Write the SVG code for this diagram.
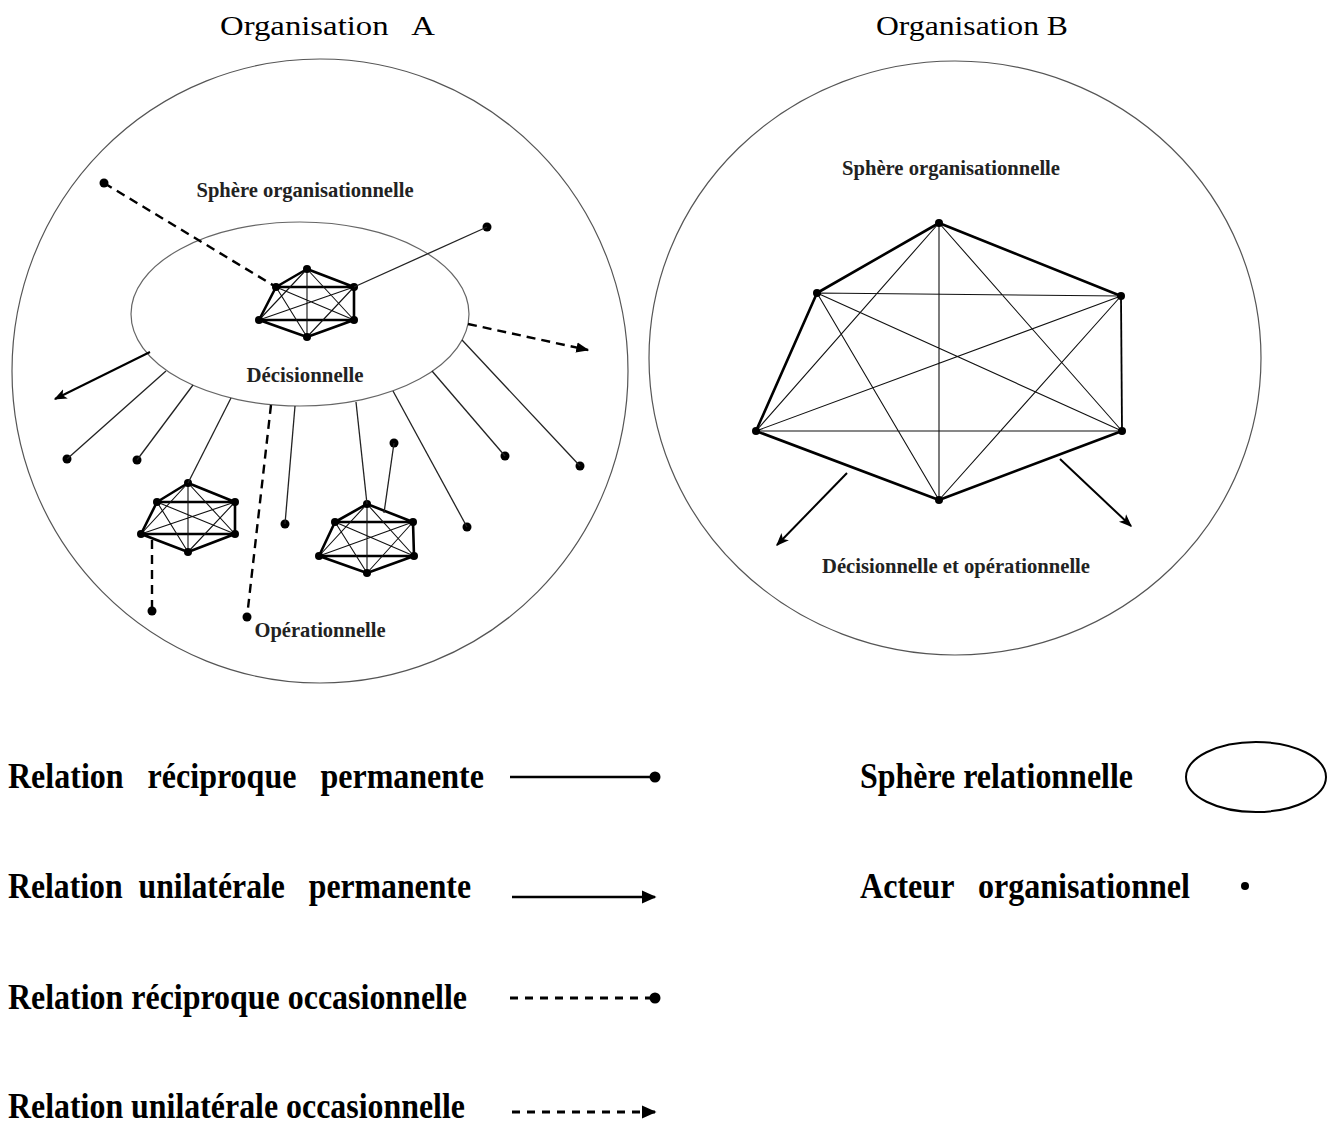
<svg xmlns="http://www.w3.org/2000/svg" width="1339" height="1124" viewBox="0 0 1339 1124">
<style>
.bg{fill:#fff}
.sphere{fill:none;stroke:#555;stroke-width:1.2}
.inner{fill:none;stroke:#666;stroke-width:1.2}
.thick{fill:none;stroke:#000;stroke-width:2.6;stroke-linejoin:round}
.med{fill:none;stroke:#000;stroke-width:1.8}
.thin{fill:none;stroke:#111;stroke-width:1.1}
.link{fill:none;stroke:#222;stroke-width:1.3}
.dash{fill:none;stroke:#000;stroke-width:2.4;stroke-dasharray:9,6}
.arrow{fill:none;stroke:#000;stroke-width:2}
.dot{fill:#000}
text{white-space:pre}
.head{font-family:"Liberation Serif","Times New Roman",serif;font-size:27px;fill:#000}
.lbl{font-family:"Liberation Serif","Times New Roman",serif;font-size:21px;font-weight:bold;fill:#222}
.leg{font-family:"Liberation Serif","Times New Roman",serif;font-size:35px;font-weight:bold;fill:#000}
</style>
<defs>
<marker id="ah" viewBox="0 0 10 10" refX="9" refY="5" markerWidth="13" markerHeight="13" markerUnits="userSpaceOnUse" orient="auto">
<path d="M0,1 L10,5 L0,9 L2.5,5 z" fill="#000"/>
</marker>
<marker id="ahs" viewBox="0 0 10 10" refX="9" refY="5" markerWidth="13" markerHeight="13" markerUnits="userSpaceOnUse" orient="auto">
<path d="M0,1 L10,5 L0,9 z" fill="#000"/>
</marker>
<marker id="ahl" viewBox="0 0 10 10" refX="9" refY="5" markerWidth="15" markerHeight="15" markerUnits="userSpaceOnUse" orient="auto">
<path d="M0,0.5 L10,5 L0,9.5 z" fill="#000"/>
</marker>
</defs>
<rect class="bg" width="1339" height="1124"/>

<g id="titles">
<text class="head" x="220" y="35" xml:space="preserve" textLength="215" lengthAdjust="spacingAndGlyphs">Organisation   A</text>
<text class="head" x="876" y="35" textLength="192" lengthAdjust="spacingAndGlyphs">Organisation B</text>
</g>

<g id="orgA">
<ellipse class="sphere" cx="320" cy="371" rx="308" ry="312"/>
<ellipse class="inner" cx="300" cy="314" rx="169" ry="92"/>
<text class="lbl" x="305" y="197" text-anchor="middle" textLength="217" lengthAdjust="spacingAndGlyphs">Sphère organisationnelle</text>
<text class="lbl" x="305" y="382" text-anchor="middle" textLength="117" lengthAdjust="spacingAndGlyphs">Décisionnelle</text>
<text class="lbl" x="320" y="637" text-anchor="middle" textLength="131" lengthAdjust="spacingAndGlyphs">Opérationnelle</text>
</g>

<g id="orgB">
<ellipse class="sphere" cx="955" cy="358" rx="306" ry="297"/>
<text class="lbl" x="951" y="175" text-anchor="middle" textLength="218" lengthAdjust="spacingAndGlyphs">Sphère organisationnelle</text>
<text class="lbl" x="956" y="573" text-anchor="middle" textLength="268" lengthAdjust="spacingAndGlyphs">Décisionnelle et opérationnelle</text>
</g>

<g id="hexA1">
<path class="thick" d="M307,269 L276,287 L259,320 L307,337 L354,320 L354,287 Z M276,287 L354,287 M259,320 L354,320"/>
<path class="thin" d="M307,269 L307,337 M307,269 L259,320 M307,269 L354,320 M276,287 L354,320 M276,287 L307,337 M354,287 L259,320 M354,287 L307,337"/>
<g class="dot"><circle cx="307" cy="269" r="4"/><circle cx="276" cy="287" r="4"/><circle cx="354" cy="287" r="4"/><circle cx="259" cy="320" r="4"/><circle cx="354" cy="320" r="4"/><circle cx="307" cy="337" r="4"/></g>
</g>

<g id="hexA2">
<path class="thick" d="M188,483 L157,502 L141,534 L188,552 L235,534 L235,502 Z M157,502 L235,502 M141,534 L235,534"/>
<path class="thin" d="M188,483 L188,552 M188,483 L141,534 M188,483 L235,534 M157,502 L235,534 M157,502 L188,552 M235,502 L141,534 M235,502 L188,552"/>
<g class="dot"><circle cx="188" cy="483" r="4"/><circle cx="157" cy="502" r="4"/><circle cx="235" cy="502" r="4"/><circle cx="141" cy="534" r="4"/><circle cx="235" cy="534" r="4"/><circle cx="188" cy="552" r="4"/></g>
</g>

<g id="hexA3">
<path class="thick" d="M367,504 L335,522 L319,556 L367,573 L414,556 L413,522 Z M335,522 L413,522 M319,556 L414,556"/>
<path class="thin" d="M367,504 L367,573 M367,504 L319,556 M367,504 L414,556 M335,522 L414,556 M335,522 L367,573 M413,522 L319,556 M413,522 L367,573"/>
<g class="dot"><circle cx="367" cy="504" r="4"/><circle cx="335" cy="522" r="4"/><circle cx="413" cy="522" r="4"/><circle cx="319" cy="556" r="4"/><circle cx="414" cy="556" r="4"/><circle cx="367" cy="573" r="4"/></g>
</g>

<g id="hexB">
<path class="thick" d="M756,431 L817,293 L939,223 L1121,296 M756,431 L939,500 L1122,431"/>
<path class="med" d="M1121,296 L1122,431"/>
<path class="thin" d="M817,293 L1121,296 M756,431 L1122,431 M939,223 L939,500 M939,223 L756,431 M939,223 L1122,431 M817,293 L1122,431 M817,293 L939,500 M1121,296 L756,431 M1121,296 L939,500"/>
<g class="dot"><circle cx="939" cy="223" r="4"/><circle cx="817" cy="293" r="4"/><circle cx="1121" cy="296" r="4"/><circle cx="756" cy="431" r="4"/><circle cx="1122" cy="431" r="4"/><circle cx="939" cy="500" r="4"/></g>
</g>

<g id="actorsA" class="dot">
<circle cx="104" cy="183" r="4.5"/>
<circle cx="487" cy="227" r="4.5"/>
<circle cx="67" cy="459" r="4.5"/>
<circle cx="137" cy="460" r="4.5"/>
<circle cx="247" cy="617" r="4.5"/>
<circle cx="152" cy="611" r="4.5"/>
<circle cx="285" cy="524" r="4.5"/>
<circle cx="394" cy="443" r="4.5"/>
<circle cx="467" cy="527" r="4.5"/>
<circle cx="505" cy="456" r="4.5"/>
<circle cx="580" cy="466" r="4.5"/>
</g>

<g id="connectors">
<line class="dash" x1="104" y1="183" x2="276" y2="287"/>
<line class="link" x1="354" y1="287" x2="487" y2="227"/>
<line class="dash" x1="468" y1="324" x2="588" y2="350" marker-end="url(#ahs)"/>
<line class="arrow" x1="150" y1="352" x2="55" y2="399" marker-end="url(#ah)"/>
<line class="link" x1="166" y1="371" x2="67" y2="459"/>
<line class="link" x1="193" y1="385" x2="137" y2="460"/>
<line class="link" x1="231" y1="398" x2="188" y2="483"/>
<line class="dash" x1="271" y1="405" x2="247" y2="617"/>
<line class="link" x1="295" y1="406" x2="285" y2="524"/>
<line class="link" x1="356" y1="402" x2="367" y2="504"/>
<line class="link" x1="394" y1="443" x2="384" y2="513"/>
<line class="link" x1="393" y1="391" x2="467" y2="527"/>
<line class="link" x1="432" y1="371" x2="505" y2="456"/>
<line class="link" x1="462" y1="340" x2="580" y2="466"/>
<line class="dash" x1="152" y1="540" x2="152" y2="611"/>
<line class="arrow" x1="847" y1="473" x2="777" y2="545" marker-end="url(#ah)"/>
<line class="arrow" x1="1060" y1="459" x2="1131" y2="526" marker-end="url(#ah)"/>
</g>

<g id="legend">
<text class="leg" x="8" y="788" xml:space="preserve" textLength="476" lengthAdjust="spacingAndGlyphs">Relation   réciproque   permanente</text>
<line x1="510" y1="777" x2="652" y2="777" stroke="#000" stroke-width="2.4"/>
<circle class="dot" cx="655" cy="777" r="5.5"/>
<text class="leg" x="8" y="898" xml:space="preserve" textLength="463" lengthAdjust="spacingAndGlyphs">Relation  unilatérale   permanente</text>
<line x1="512" y1="897" x2="655" y2="897" stroke="#000" stroke-width="2.6" marker-end="url(#ahl)"/>
<text class="leg" x="8" y="1009" textLength="459" lengthAdjust="spacingAndGlyphs">Relation réciproque occasionnelle</text>
<line x1="510" y1="998" x2="652" y2="998" stroke="#000" stroke-width="2.8" stroke-dasharray="8,7"/>
<circle class="dot" cx="655" cy="998" r="5.5"/>
<text class="leg" x="8" y="1118" textLength="457" lengthAdjust="spacingAndGlyphs">Relation unilatérale occasionnelle</text>
<line x1="512" y1="1112" x2="655" y2="1112" stroke="#000" stroke-width="2.8" stroke-dasharray="8,7" marker-end="url(#ahl)"/>
<text class="leg" x="860" y="788" textLength="273" lengthAdjust="spacingAndGlyphs">Sphère relationnelle</text>
<ellipse cx="1256" cy="777" rx="70" ry="35" fill="none" stroke="#000" stroke-width="2"/>
<text class="leg" x="860" y="898" xml:space="preserve" textLength="330" lengthAdjust="spacingAndGlyphs">Acteur   organisationnel</text>
<circle class="dot" cx="1245" cy="886" r="4"/>
</g>
</svg>
